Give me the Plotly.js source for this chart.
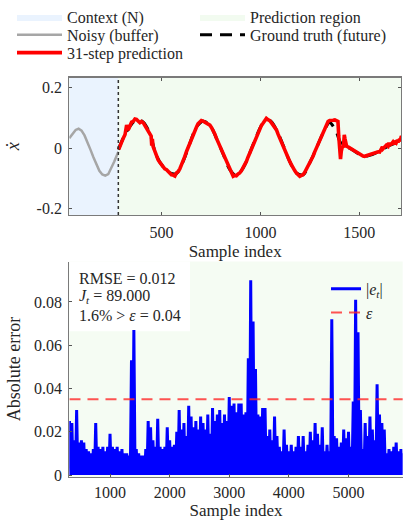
<!DOCTYPE html>
<html><head><meta charset="utf-8">
<script src="https://cdn.plot.ly/plotly-3.0.1.min.js"></script>
<style>html,body{margin:0;padding:0;background:#fff}</style>
</head><body><div id="chart" style="width:406px;height:520px"></div>
<script>
// ---- Top panel data ----
const axisStart = 33, axisEnd = 1711, contextEnd = 281;
const topYMin = -0.221, topYMax = 0.233;
const bufferX = [33,50,65,80,95,110,125,140,155,170,185,200,215,230,245,260,281];
const bufferY = [0.033,0.048,0.060,0.064,0.058,0.042,0.020,-0.005,-0.030,-0.055,-0.075,-0.087,-0.091,-0.086,-0.068,-0.045,-0.012];

const predX = [283,290,298,306,315,323,331,340,348,356,365,373,382,390,398,407,415,424,432,441,447,450,453,457,466,474,482,491,500,508,516,525,533,542,550,558,567,575,583,592,600,609,617,626,634,643,651,659,668,676,684,693,701,710,718,727,735,744,752,760,769,777,786,794,802,811,819,828,836,845,853,862,870,878,887,895,904,912,920,929,937,946,954,963,971,979,988,996,1005,1013,1021,1030,1038,1047,1055,1064,1072,1081,1089,1097,1106,1114,1123,1131,1140,1148,1157,1165,1174,1182,1190,1199,1207,1215,1224,1232,1241,1249,1257,1266,1274,1283,1291,1300,1308,1316,1325,1333,1342,1350,1359,1367,1376,1384,1392,1396,1401,1405,1409,1414,1420,1424,1428,1431,1436,1443,1451,1460,1468,1477,1485,1493,1502,1510,1519,1527,1536,1544,1552,1561,1569,1578,1586,1595,1603,1611,1617,1620,1628,1637,1645,1650,1653,1662,1670,1676,1679,1687,1693,1696,1704,1708,1711,1714];
const predY = [-0.004,0.010,0.022,0.033,0.045,0.076,0.060,0.074,0.086,0.088,0.096,0.095,0.090,0.084,0.088,0.084,0.075,0.064,0.055,0.044,0.040,0.008,0.030,0.005,-0.012,-0.027,-0.038,-0.047,-0.056,-0.062,-0.068,-0.071,-0.078,-0.082,-0.088,-0.089,-0.092,-0.082,-0.078,-0.069,-0.058,-0.044,-0.028,-0.011,0.003,0.016,0.030,0.044,0.058,0.069,0.080,0.087,0.091,0.089,0.086,0.082,0.080,0.076,0.068,0.060,0.047,0.033,0.019,0.005,-0.006,-0.019,-0.031,-0.045,-0.058,-0.071,-0.083,-0.093,-0.090,-0.091,-0.085,-0.082,-0.074,-0.066,-0.055,-0.044,-0.030,-0.016,-0.003,0.011,0.025,0.038,0.052,0.066,0.075,0.082,0.092,0.098,0.094,0.091,0.084,0.077,0.069,0.060,0.046,0.033,0.022,0.011,-0.003,-0.016,-0.030,-0.044,-0.055,-0.066,-0.075,-0.082,-0.088,-0.093,-0.090,-0.088,-0.080,-0.071,-0.060,-0.049,-0.038,-0.027,-0.013,0.000,0.014,0.027,0.038,0.049,0.066,0.077,0.088,0.091,0.093,0.092,0.093,0.092,0.088,0.040,-0.033,-0.036,-0.010,0.004,0.006,0.044,0.030,0.010,0.006,0.004,0.001,-0.004,-0.008,-0.012,-0.014,-0.017,-0.020,-0.024,-0.026,-0.027,-0.025,-0.022,-0.021,-0.018,-0.016,-0.014,-0.013,-0.012,-0.013,-0.006,0.004,-0.002,0.003,0.010,0.006,0.018,0.010,0.013,0.020,0.012,0.024,0.018,0.027,0.020,0.030,0.022,0.036,0.040];

const truthX = [281,306,340,373,407,441,474,508,542,575,609,643,676,710,744,777,811,845,878,912,946,979,1013,1047,1081,1114,1148,1182,1215,1249,1283,1316,1350,1370,1385,1400,1418,1451,1485,1519,1552,1586,1620,1653,1687,1711];
const truthY = [-0.005,0.033,0.072,0.093,0.086,0.046,-0.025,-0.062,-0.082,-0.084,-0.044,0.016,0.069,0.089,0.076,0.033,-0.019,-0.071,-0.091,-0.066,-0.016,0.038,0.082,0.091,0.060,0.011,-0.044,-0.082,-0.088,-0.049,0.000,0.049,0.085,0.070,0.052,0.025,0.006,0.000,-0.014,-0.027,-0.024,-0.015,-0.003,0.009,0.018,0.028];

// ---- Bottom panel data ----
const errStart = 320, errStep = 40;
const errPeaks = [0.025,0.024,0.016,0.030,0.015,0.016,0.015,0.012,0.011,0.010,
 0.012,0.024,0.013,0.012,0.013,0.011,0.013,0.019,0.013,0.012,
 0.013,0.011,0.012,0.010,0.010,0.009,0.053,0.067,0.012,0.010,
 0.009,0.009,0.012,0.025,0.022,0.016,0.013,0.026,0.013,0.012,
 0.013,0.022,0.016,0.013,0.014,0.020,0.030,0.021,0.024,0.018,
 0.032,0.027,0.022,0.025,0.021,0.027,0.024,0.021,0.028,0.019,
 0.031,0.025,0.028,0.030,0.024,0.028,0.025,0.036,0.032,0.033,
 0.029,0.033,0.033,0.028,0.029,0.054,0.090,0.071,0.049,0.028,
 0.027,0.031,0.031,0.018,0.021,0.016,0.027,0.018,0.013,0.011,
 0.021,0.014,0.011,0.014,0.011,0.013,0.018,0.013,0.018,0.011,
 0.014,0.020,0.016,0.024,0.019,0.014,0.022,0.011,0.014,0.011,
 0.072,0.018,0.017,0.013,0.015,0.021,0.017,0.020,0.013,0.034,
 0.081,0.066,0.030,0.012,0.024,0.018,0.027,0.021,0.016,0.042,
 0.028,0.024,0.021,0.010,0.012,0.011,0.013,0.015,0.011,0.012,
 0.010];
const errTrough = 0.0;
const epsLine = 0.035;
const botXMin = 317, botXMax = 5909, botYMin = -0.0008, botYMax = 0.0987;

const statLines = ['RMSE = 0.012', '<i>J</i><sub><i>t</i></sub> = 89.000', '1.6% &gt; <i>ε</i> = 0.04'];
const topXTicks = [500, 1000, 1500];
const topYTicks = [-0.2, 0, 0.2];
const topYTickText = ['-0.2', '0', '0.2'];
const botYTicks = [0, 0.02, 0.04, 0.06, 0.08];
const botYTickText = ['0', '0.02', '0.04', '0.06', '0.08'];

// zigzag error trace
const errX = [], errY = [];
errPeaks.forEach((v, i) => {
  const x = errStart + i * errStep;
  errX.push(x); errY.push(v);
  errX.push(x + errStep / 2); errY.push(errTrough);
});

const FONT = 'Liberation Serif';
const TXT = '#262626';

const traces = [
  {x:[axisStart, contextEnd, contextEnd, axisStart, axisStart], y:[topYMin, topYMin, topYMax, topYMax, topYMin],
   fill:'toself', fillcolor:'rgb(234,243,254)', mode:'lines', line:{width:0, color:'rgba(0,0,0,0)'},
   name:'Context (N)', xaxis:'x', yaxis:'y', hoverinfo:'skip', legend:'legend'},
  {x:[contextEnd, axisEnd, axisEnd, contextEnd, contextEnd], y:[topYMin, topYMin, topYMax, topYMax, topYMin],
   fill:'toself', fillcolor:'rgb(242,251,240)', mode:'lines', line:{width:0, color:'rgba(0,0,0,0)'},
   name:'Prediction region', xaxis:'x', yaxis:'y', hoverinfo:'skip', legend:'legend5'},
  {x:bufferX, y:bufferY, mode:'lines', line:{color:'#a6a6a6', width:2.5}, name:'Noisy (buffer)', xaxis:'x', yaxis:'y', legend:'legend3'},
  {x:truthX, y:truthY, mode:'lines', line:{color:'#000', width:3, dash:'12px,8px', shape:'spline'}, name:'Ground truth (future)', xaxis:'x', yaxis:'y', legend:'legend6'},
  {x:predX, y:predY, mode:'lines', line:{color:'#ff0000', width:3.6}, name:'31-step prediction', xaxis:'x', yaxis:'y', legend:'legend4'},
  {x:errX, y:errY, mode:'lines', line:{color:'#0000ff', width:3}, name:'|<i>e</i><sub><i>t</i></sub>|', xaxis:'x2', yaxis:'y2', legend:'legend2'},
  {x:[errX[0], errX[errX.length-1]], y:[epsLine, epsLine], mode:'lines', line:{color:'rgba(255,40,40,0.8)', width:2, dash:'11px,7px'}, name:'<i>ε</i>', xaxis:'x2', yaxis:'y2', legend:'legend2'}
];

const axisCommon = {showgrid:false, zeroline:false, ticks:'inside', ticklen:3, tickcolor:'#555', showline:true, linecolor:'#7a7a7a', linewidth:1.2,
  tickfont:{family:FONT, size:16, color:TXT}, automargin:false};

const topLegend = (xpx, ypx) => ({x:xpx/406, y:1 - ypx/520, xanchor:'left', yanchor:'middle', itemwidth:45,
    font:{family:FONT, size:16, color:TXT}, bgcolor:'rgba(0,0,0,0)', itemclick:false, itemdoubleclick:false});

const layout = {
  width:406, height:520, margin:{l:0, r:0, t:0, b:0},
  paper_bgcolor:'#ffffff', plot_bgcolor:'rgb(245,252,243)',
  showlegend:true,
  font:{family:FONT, color:TXT},
  xaxis:Object.assign({}, axisCommon, {domain:[0.1707, 0.9877], anchor:'y', range:[axisStart, axisEnd], tickvals:topXTicks, mirror:'ticks', ticklabelstandoff:3,
    title:{text:'Sample index', font:{family:FONT, size:17, color:TXT}, standoff:4}}),
  yaxis:Object.assign({}, axisCommon, {domain:[0.5898, 0.8558], anchor:'x', range:[topYMin, topYMax], tickvals:topYTicks, ticktext:topYTickText, mirror:'ticks', ticklabelstandoff:3,
    title:{text:'<i>ẋ</i>', font:{family:FONT, size:18, color:TXT}, standoff:12}}),
  xaxis2:Object.assign({}, axisCommon, {domain:[0.1707, 0.9918], anchor:'y2', range:[botXMin, botXMax], tick0:0, dtick:1000, tickformat:'d', ticklabelstandoff:1,
    title:{text:'Sample index', font:{family:FONT, size:17, color:TXT}, standoff:1}}),
  yaxis2:Object.assign({}, axisCommon, {domain:[0.0837, 0.5], anchor:'x2', range:[botYMin, botYMax], tickvals:botYTicks, ticktext:botYTickText, ticklabelstandoff:3,
    title:{text:'Absolute error', font:{family:FONT, size:18, color:TXT}, standoff:8}}),
  legend:topLegend(12, 14),
  legend3:topLegend(12, 32),
  legend4:topLegend(12, 50),
  legend5:topLegend(195, 14),
  legend6:topLegend(195, 32),
  legend2:{x:0.803, y:0.48, xanchor:'left', yanchor:'top', bgcolor:'rgba(0,0,0,0)', itemwidth:30,
    font:{family:FONT, size:16, color:TXT}, itemclick:false, itemdoubleclick:false},
  shapes:[
    {type:'line', xref:'x', yref:'y domain', x0:contextEnd, x1:contextEnd, y0:0, y1:1, line:{color:'#333', width:1.5, dash:'dot'}, layer:'above'},
    {type:'rect', xref:'paper', yref:'paper', x0:0.1707, x1:0.468, y0:0.365, y1:0.5, fillcolor:'#ffffff', line:{width:0}, layer:'below'}
  ],
  annotations: statLines.map((t, i) => ({xref:'paper', yref:'paper', x:77/406, y:1 - (277 + i*18.5)/520, xanchor:'left', yanchor:'middle',
    text:t, showarrow:false, font:{family:FONT, size:16, color:TXT}}))
};

Plotly.newPlot('chart', traces, layout, {displayModeBar:false, staticPlot:true});
</script></body></html>
